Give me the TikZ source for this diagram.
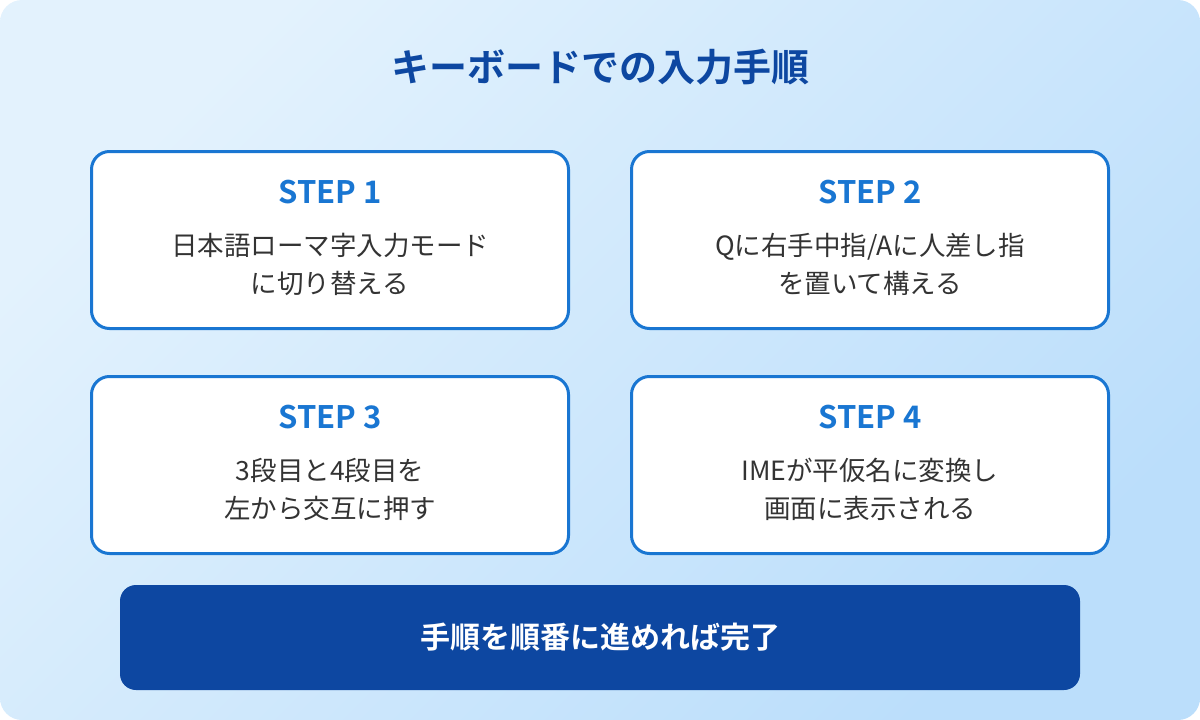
\documentclass[tikz,border=0pt]{standalone}
\usepackage{fontspec}
\setmainfont{Noto Sans CJK JP}[BoldFont={* Bold}]
\usepackage{xcolor}
\usepackage{tikz}
\usetikzlibrary{positioning}
\definecolor{bgA}{HTML}{E3F2FD}
\definecolor{bgB}{HTML}{BBDEFB}
\definecolor{navy}{HTML}{0D47A1}
\definecolor{stepblue}{HTML}{1976D2}
\definecolor{ink}{HTML}{333333}
\tikzset{
  stepbox/.style={draw=stepblue, fill=white, line width=3pt, rounded corners=18pt,
    minimum width=477pt, minimum height=177pt, inner sep=0pt},
  steplab/.style={text=stepblue, font=\fontsize{31}{34}\selectfont\bfseries},
  body/.style={text=ink, align=center, font=\fontsize{26.5}{38}\selectfont},
  titlelab/.style={text=navy, font=\fontsize{38}{42}\selectfont\bfseries},
  donebar/.style={fill=navy, rounded corners=16pt, minimum width=960pt, minimum height=105pt,
    text=white, font=\fontsize{30}{34}\selectfont\bfseries}
}
\begin{document}
\begin{tikzpicture}[x=1pt, y=-1pt]
  \useasboundingbox (0,0) rectangle (1200,720);
  % background panel
  \shade[rounded corners=22pt, left color=bgA, right color=bgB, shading angle=45]
    (0,0) rectangle (1200,720);

  \node[titlelab] (title) at (600,67) {キーボードでの入力手順};

  \node[stepbox] (s1) at (330,240) {};
  \node[steplab] (s1t) at (330,192) {STEP 1};
  \node[body] (s1b) at (330,264) {日本語ローマ字入力モード\\に切り替える};

  \node[stepbox] (s2) at (870,240) {};
  \node[steplab] (s2t) at (870,192) {STEP 2};
  \node[body] (s2b) at (870,264) {Qに右手中指/Aに人差し指\\を置いて構える};

  \node[stepbox] (s3) at (330,465) {};
  \node[steplab] (s3t) at (330,417) {STEP 3};
  \node[body] (s3b) at (330,489) {3段目と4段目を\\左から交互に押す};

  \node[stepbox] (s4) at (870,465) {};
  \node[steplab] (s4t) at (870,417) {STEP 4};
  \node[body] (s4b) at (870,489) {IMEが平仮名に変換し\\画面に表示される};

  \node[donebar] (done) at (600,637.5) {手順を順番に進めれば完了};
\end{tikzpicture}
\end{document}
